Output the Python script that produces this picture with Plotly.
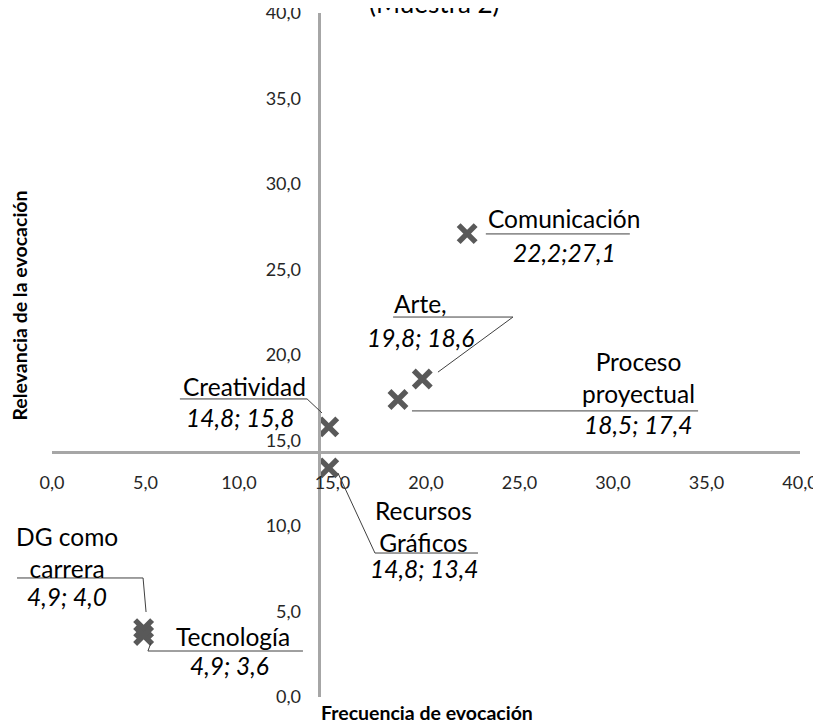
import plotly.graph_objects as go

# ---------------- data ----------------
categories = ["Comunicación", "Arte", "Proceso proyectual", "Creatividad",
              "Recursos Gráficos", "DG como carrera", "Tecnología"]
frecuencia = [22.2, 19.8, 18.5, 14.8, 14.8, 4.9, 4.9]
relevancia = [27.1, 18.6, 17.4, 15.8, 13.4, 4.0, 3.6]
name_labels = ["Comunicación", "Arte,", "Proceso<br>proyectual", "Creatividad",
               "Recursos<br>Gráficos", "DG como<br>carrera", "Tecnología"]
value_labels = ["22,2;27,1", "19,8; 18,6", "18,5; 17,4", "14,8; 15,8",
                "14,8; 13,4", "4,9; 4,0", "4,9; 3,6"]
tick_vals = [0, 5, 10, 15, 20, 25, 30, 35, 40]
tick_text = ["0,0", "5,0", "10,0", "15,0", "20,0", "25,0", "30,0", "35,0", "40,0"]
cross_x = 14.3   # where the vertical axis crosses
cross_y = 14.3   # where the horizontal axis crosses

# ---------------- label layout (data units) ----------------
name_pos = [(27.4, 28.0), (19.68, 23.04), (31.34, 18.68), (10.32, 18.13),
            (19.89, 9.97), (0.80, 8.45), (9.68, 3.51)]
value_pos = [(27.4, 26.0), (19.68, 21.05), (31.34, 15.91), (10.05, 16.37),
             (19.89, 7.54), (0.80, 5.85), (9.47, 1.87)]
leaders = [
    [(23.2, 27.08), (30.9, 27.08)],
    [(18.24, 22.22), (24.65, 22.22), (20.64, 19.0)],
    [(19.25, 16.73), (34.55, 16.73)],
    [(6.84, 17.43), (13.64, 17.43), (14.44, 16.61)],
    [(22.78, 8.42), (17.27, 8.42), (15.29, 13.1)],
    [(-1.87, 6.96), (4.87, 6.96), (5.03, 4.97)],
    [(13.42, 2.69), (5.13, 2.69), (5.29, 3.16)],
]

XR = [0, 40]
YR = [0, 40]
FONT = "Lato"
LABEL_SIZE = 24.5

def to_paper_x(v):
    return (v - XR[0]) / (XR[1] - XR[0])

def to_paper_y(v):
    return (v - YR[0]) / (YR[1] - YR[0])

fig = go.Figure()
fig.add_trace(go.Scatter(
    x=frecuencia, y=relevancia, mode="markers", text=categories,
    marker=dict(symbol="x-thin", size=17, line=dict(width=5.5, color="#595959"),
                color="#595959"),
    cliponaxis=False, hoverinfo="text", showlegend=False,
))

annotations = []
for nm, vl, (nx, ny), (vx, vy) in zip(name_labels, value_labels, name_pos, value_pos):
    annotations.append(dict(x=nx, y=ny, xref="x", yref="y", text=nm, showarrow=False,
                            font=dict(family=FONT, size=LABEL_SIZE, color="#000000"),
                            xanchor="center", yanchor="middle", align="center"))
    annotations.append(dict(x=vx, y=vy, xref="x", yref="y", text="<i>" + vl + "</i>",
                            showarrow=False,
                            font=dict(family=FONT, size=LABEL_SIZE, color="#000000"),
                            xanchor="center", yanchor="middle"))

annotations.append(dict(x=0.501, y=-0.022, xref="paper", yref="paper",
                        text="<b>Frecuencia de evocación</b>", showarrow=False,
                        font=dict(family=FONT, size=19.5, color="#000000"),
                        xanchor="center", yanchor="middle"))
annotations.append(dict(x=-0.043, y=0.572, xref="paper", yref="paper",
                        text="<b>Relevancia de la evocación</b>", showarrow=False,
                        textangle=-90,
                        font=dict(family=FONT, size=19.5, color="#000000"),
                        xanchor="center", yanchor="middle"))
annotations.append(dict(x=0.512, y=0.9885, xref="paper", yref="paper",
                        text="(Muestra 2)", showarrow=False,
                        font=dict(family=FONT, size=26, color="#000000"),
                        xanchor="center", yanchor="bottom"))

shapes = []
for pts in leaders:
    for (x0, y0), (x1, y1) in zip(pts[:-1], pts[1:]):
        shapes.append(dict(type="line", xref="paper", yref="paper",
                           x0=to_paper_x(x0), y0=to_paper_y(y0),
                           x1=to_paper_x(x1), y1=to_paper_y(y1),
                           line=dict(color="#404040", width=1)))

axis_common = dict(
    tickmode="array", tickvals=tick_vals, ticktext=tick_text,
    showgrid=False, zeroline=False, showline=True, linecolor="#a6a6a6",
    linewidth=2.5, ticks="", tickfont=dict(family=FONT, size=18, color="#262626"),
    anchor="free", fixedrange=True, automargin=False, ticklabeloverflow="allow",
)

fig.update_layout(
    width=813, height=716,
    margin=dict(l=44, r=21, t=5, b=27, autoexpand=False),
    paper_bgcolor="white", plot_bgcolor="white",
    xaxis=dict(range=XR, position=to_paper_y(cross_y), ticklabelstandoff=13,
               **axis_common),
    yaxis=dict(range=YR, position=to_paper_x(cross_x), ticklabelstandoff=14,
               **axis_common),
    annotations=annotations,
    shapes=shapes,
    showlegend=False,
)

fig.write_html("out.html")
